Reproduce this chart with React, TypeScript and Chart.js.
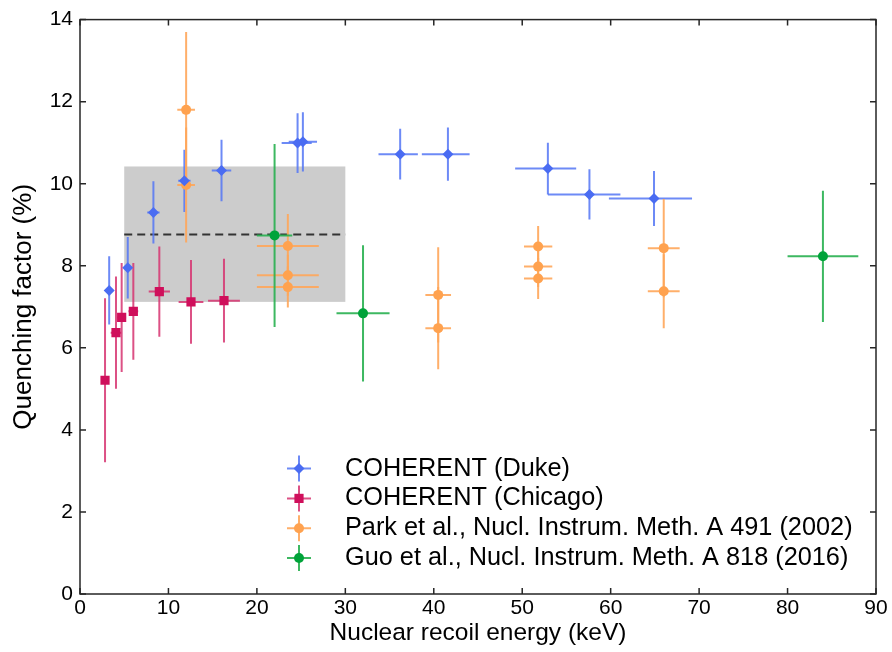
import React, { useEffect, useRef } from "react";
import { Chart, registerables } from "chart.js";

Chart.register(...registerables);

// ---------- data ----------
const xTickValues = [0, 10, 20, 30, 40, 50, 60, 70, 80, 90];
const yTickValues = [0, 2, 4, 6, 8, 10, 12, 14];

const xTitle = "Nuclear recoil energy (keV)";
const yTitle = "Quenching factor (%)";

const seriesLabels = [
  "COHERENT (Duke)",
  "COHERENT (Chicago)",
  "Park et al., Nucl. Instrum. Meth. A 491 (2002)",
  "Guo et al., Nucl. Instrum. Meth. A 818 (2016)",
];

const dukeX = [3.3, 5.4, 8.3, 11.8, 16.0, 24.6, 25.2, 36.2, 41.6, 52.9, 57.6, 64.9];
const dukeY = [7.4, 7.95, 9.3, 10.07, 10.32, 10.99, 11.02, 10.72, 10.72, 10.37, 9.74, 9.64];
const dukeXErrLo = [0.3, 0.4, 0.7, 0.7, 1.1, 1.8, 1.6, 2.45, 2.95, 3.7, 4.7, 5.1];
const dukeXErrHi = [0.3, 0.4, 0.7, 0.7, 1.1, 1.6, 1.6, 2.0, 2.45, 3.2, 3.5, 4.3];
const dukeYErr = [0.83, 0.75, 0.76, 0.76, 0.75, 0.73, 0.72, 0.62, 0.65, 0.63, 0.61, 0.67];

const chicagoX = [2.83, 4.07, 4.71, 6.03, 8.97, 12.55, 16.28];
const chicagoY = [5.21, 6.37, 6.74, 6.89, 7.37, 7.12, 7.15];
const chicagoXErr = [0.2, 0.6, 0.5, 0.55, 1.2, 1.4, 1.8];
const chicagoYErr = [2.0, 1.37, 1.33, 1.18, 1.1, 1.02, 1.02];

const parkX = [12.0, 12.0, 23.5, 23.5, 23.5, 40.5, 40.5, 51.8, 51.8, 51.8, 66.0, 66.0];
const parkY = [11.8, 9.97, 8.48, 7.77, 7.48, 7.29, 6.48, 8.47, 7.98, 7.69, 8.43, 7.38];
const parkXErr = [1.0, 1.0, 3.5, 3.5, 3.5, 1.45, 1.45, 1.6, 1.6, 1.6, 1.8, 1.8];
const parkYErr = [1.9, 1.4, 0.78, 0.5, 0.5, 1.16, 1.0, 0.5, 0.5, 0.5, 1.2, 0.9];

const guoX = [22.0, 32.0, 84.0];
const guoY = [8.74, 6.84, 8.23];
const guoXErr = [2.0, 3.0, 4.0];
const guoYErr = [2.23, 1.66, 1.6];

// shaded band: energy range, quenching range, mean
const bandX = [5, 30];
const bandY = [7.12, 10.42];
const bandMean = 8.76;

// ---------- styling ----------
const FONT = "'Liberation Sans', Arial, Helvetica, sans-serif";
const COLORS = {
  duke: { marker: "#4a6cf2", bar: "rgba(84,118,245,0.85)" },
  chicago: { marker: "#cf0f5b", bar: "rgba(214,50,112,0.85)" },
  park: { marker: "#ffa24f", bar: "rgba(255,166,90,0.9)" },
  guo: { marker: "#00a33a", bar: "rgba(40,176,80,0.9)" },
};

function pts(xs: number[], ys: number[]) {
  return xs.map((x, i) => ({ x, y: ys[i] }));
}

function drawMarker(ctx: CanvasRenderingContext2D, style: string, x: number, y: number, r: number, color: string) {
  ctx.save();
  ctx.fillStyle = color;
  ctx.beginPath();
  if (style === "circle") {
    ctx.arc(x, y, r, 0, Math.PI * 2);
  } else if (style === "rect") {
    const s = r * Math.SQRT1_2;
    ctx.rect(x - s, y - s, 2 * s, 2 * s);
  } else {
    ctx.moveTo(x, y - r);
    ctx.lineTo(x + r, y);
    ctx.lineTo(x, y + r);
    ctx.lineTo(x - r, y);
    ctx.closePath();
  }
  ctx.fill();
  ctx.restore();
}

const bandPlugin = {
  id: "bandPlugin",
  beforeDatasetsDraw(chart: any) {
    const { ctx, scales } = chart;
    const xs = scales.x, ys = scales.y;
    const l = xs.getPixelForValue(bandX[0]);
    const r = xs.getPixelForValue(bandX[1]);
    const t = ys.getPixelForValue(bandY[1]);
    const b = ys.getPixelForValue(bandY[0]);
    ctx.save();
    ctx.fillStyle = "#cccccc";
    ctx.fillRect(l, t, r - l, b - t);
    const m = ys.getPixelForValue(bandMean);
    ctx.strokeStyle = "#333333";
    ctx.lineWidth = 2;
    ctx.setLineDash([8, 5]);
    ctx.beginPath();
    ctx.moveTo(l, m);
    ctx.lineTo(r, m);
    ctx.stroke();
    ctx.restore();
  },
};

const errorBarPlugin = {
  id: "errorBarPlugin",
  beforeDatasetsDraw(chart: any) {
    const { ctx, scales } = chart;
    const xs = scales.x, ys = scales.y;
    ctx.save();
    ctx.lineWidth = 2;
    chart.data.datasets.forEach((ds: any) => {
      ctx.strokeStyle = ds.errColor;
      ds.data.forEach((p: any, i: number) => {
        const px = xs.getPixelForValue(p.x);
        const py = ys.getPixelForValue(p.y);
        const x0 = xs.getPixelForValue(p.x - ds.xLo[i]);
        const x1 = xs.getPixelForValue(p.x + ds.xHi[i]);
        const y0 = ys.getPixelForValue(p.y - ds.yLo[i]);
        const y1 = ys.getPixelForValue(p.y + ds.yHi[i]);
        ctx.beginPath();
        ctx.moveTo(x0, py);
        ctx.lineTo(x1, py);
        ctx.moveTo(px, y0);
        ctx.lineTo(px, y1);
        ctx.stroke();
      });
    });
    ctx.restore();
  },
};

const framePlugin = {
  id: "framePlugin",
  afterDraw(chart: any) {
    const { ctx, chartArea, scales } = chart;
    const { left, right, top, bottom } = chartArea;
    ctx.save();
    ctx.strokeStyle = "#262626";
    ctx.lineWidth = 1.5;
    ctx.strokeRect(left, top, right - left, bottom - top);
    const tl = 6;
    ctx.beginPath();
    xTickValues.forEach((v) => {
      const px = scales.x.getPixelForValue(v);
      ctx.moveTo(px, bottom);
      ctx.lineTo(px, bottom - tl);
      ctx.moveTo(px, top);
      ctx.lineTo(px, top + tl);
    });
    yTickValues.forEach((v) => {
      const py = scales.y.getPixelForValue(v);
      ctx.moveTo(left, py);
      ctx.lineTo(left + tl, py);
      ctx.moveTo(right, py);
      ctx.lineTo(right - tl, py);
    });
    ctx.stroke();
    ctx.restore();
  },
};

const legendPlugin = {
  id: "insideLegend",
  afterDraw(chart: any) {
    const { ctx, chartArea } = chart;
    const mx = chartArea.left + 219;
    const y0 = chartArea.top + 449;
    const step = 29.8;
    ctx.save();
    chart.data.datasets.forEach((ds: any, i: number) => {
      const y = y0 + i * step;
      ctx.strokeStyle = ds.errColor;
      ctx.lineWidth = 2;
      ctx.beginPath();
      ctx.moveTo(mx - 12, y);
      ctx.lineTo(mx + 12, y);
      ctx.moveTo(mx, y - 13);
      ctx.lineTo(mx, y + 13);
      ctx.stroke();
      drawMarker(ctx, ds.pointStyle, mx, y, ds.pointRadius, ds.backgroundColor);
      ctx.fillStyle = "#000";
      ctx.font = `25.3px ${FONT}`;
      ctx.textBaseline = "middle";
      ctx.textAlign = "left";
      ctx.fillText(ds.label, chartArea.left + 265, y);
    });
    ctx.restore();
  },
};

export default function App() {
  const ref = useRef<HTMLCanvasElement>(null);

  useEffect(() => {
    if (!ref.current) return;
    const mk = (
      label: string,
      xs: number[],
      ys: number[],
      xLo: number[],
      xHi: number[],
      yLo: number[],
      yHi: number[],
      c: { marker: string; bar: string },
      pointStyle: string,
      pointRadius: number
    ) => ({
      label,
      data: pts(xs, ys),
      xLo,
      xHi,
      yLo,
      yHi,
      errColor: c.bar,
      backgroundColor: c.marker,
      borderColor: c.marker,
      borderWidth: 0,
      pointStyle,
      pointRadius,
      pointHoverRadius: pointRadius,
      showLine: false,
    });

    const chart = new Chart(ref.current, {
      type: "scatter",
      data: {
        datasets: [
          mk(seriesLabels[0], dukeX, dukeY, dukeXErrLo, dukeXErrHi, dukeYErr, dukeYErr, COLORS.duke, "rectRot", 5.5),
          mk(seriesLabels[1], chicagoX, chicagoY, chicagoXErr, chicagoXErr, chicagoYErr, chicagoYErr, COLORS.chicago, "rect", 6.5),
          mk(seriesLabels[2], parkX, parkY, parkXErr, parkXErr, parkYErr, parkYErr, COLORS.park, "circle", 5),
          mk(seriesLabels[3], guoX, guoY, guoXErr, guoXErr, guoYErr, guoYErr, COLORS.guo, "circle", 5),
        ] as any,
      },
      options: {
        animation: false,
        responsive: false,
        devicePixelRatio: 1,
        layout: { padding: { top: 17, right: 16, left: 0, bottom: 0 } },
        plugins: {
          legend: { display: false },
          tooltip: { enabled: false },
        },
        scales: {
          x: {
            type: "linear",
            min: 0,
            max: 90,
            afterBuildTicks: (s: any) => {
              s.ticks = xTickValues.map((v) => ({ value: v }));
            },
            afterFit: (s: any) => {
              s.height = 58;
            },
            ticks: {
              font: { family: FONT, size: 21 },
              color: "#000",
              padding: 2,
              maxRotation: 0,
              autoSkip: false,
            },
            grid: { display: false, drawTicks: false },
            border: { display: false },
            title: {
              display: true,
              text: xTitle,
              color: "#000",
              font: { family: FONT, size: 24.5 },
              padding: { top: 0, bottom: 4 },
            },
          },
          y: {
            type: "linear",
            min: 0,
            max: 14,
            afterBuildTicks: (s: any) => {
              s.ticks = yTickValues.map((v) => ({ value: v }));
            },
            afterFit: (s: any) => {
              s.width = 80;
            },
            ticks: {
              font: { family: FONT, size: 21 },
              color: "#000",
              padding: 7,
              autoSkip: false,
            },
            grid: { display: false, drawTicks: false },
            border: { display: false },
            title: {
              display: true,
              text: yTitle,
              color: "#000",
              font: { family: FONT, size: 26 },
              padding: { top: 8, bottom: 0 },
            },
          },
        },
      },
      plugins: [bandPlugin, errorBarPlugin, framePlugin, legendPlugin],
    } as any);
    return () => chart.destroy();
  }, []);

  return (
    <div style={{ position: "fixed", left: 0, top: 0, width: 892, height: 652, background: "#fff" }}>
      <canvas ref={ref} width={892} height={652} style={{ display: "block" }} />
    </div>
  );
}
